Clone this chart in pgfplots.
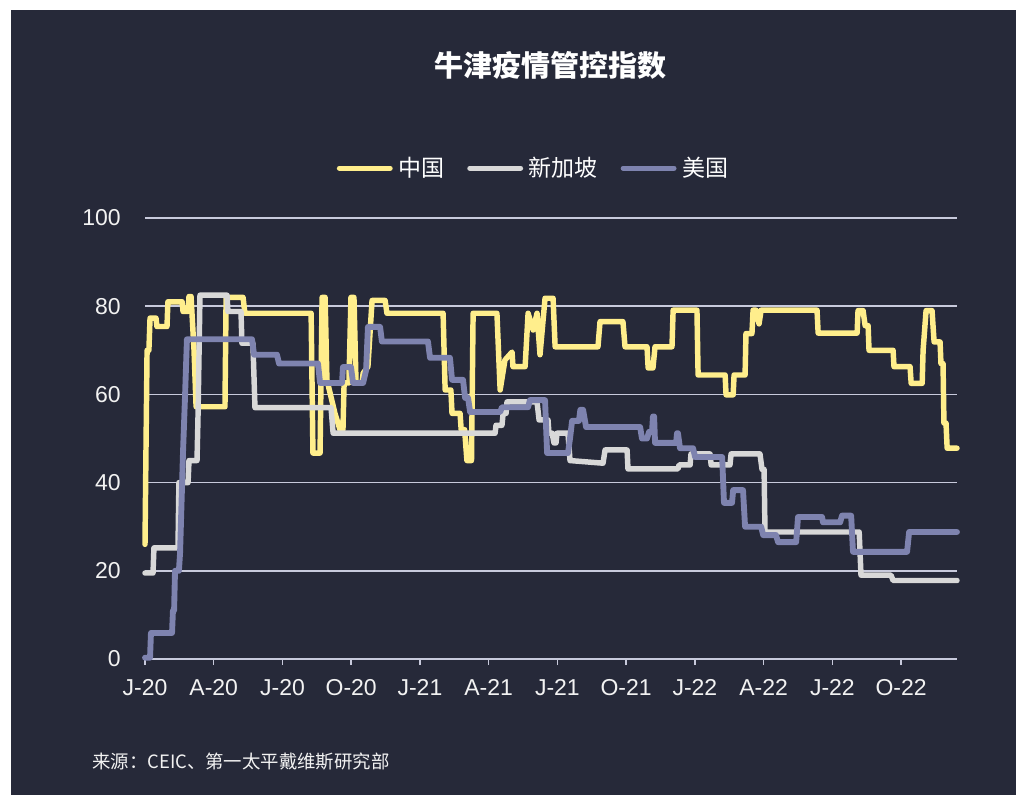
\documentclass[border=0pt]{standalone}
\usepackage{pgfplots}
\pgfplotsset{compat=1.18}
\usepackage{fontspec}
\setmainfont{Liberation Sans}
\newfontfamily\cjk{Noto Sans CJK SC}
\definecolor{bg}{HTML}{262939}
\definecolor{cn}{HTML}{FFEE8C}
\definecolor{sg}{HTML}{D8D8D8}
\definecolor{us}{HTML}{7E83AF}
\definecolor{gridc}{HTML}{C8CADC}
\definecolor{txt}{HTML}{F2F2F2}

\pgfplotstableread{
m v
0 26
0.04 46
0.09 70
0.17 70
0.22 77.3
0.48 77.3
0.52 75.4
0.96 75.4
1.00 81
1.62 81
1.66 78.8
1.88 78.8
1.92 82.2
2.01 82.2
2.14 70
2.23 57.2
3.49 57.2
3.54 82
4.28 82
4.36 78.4
7.25 78.4
7.33 46.7
7.64 46.7
7.73 82
7.86 82
7.94 63.3
8.29 55.7
8.51 52
8.64 52
8.69 62.6
8.90 62.6
8.99 82
9.12 82
9.21 62.6
9.47 62.6
9.52 64.8
9.73 66.3
9.91 81.3
10.48 81.3
10.56 78.4
13.01 78.4
13.10 61
13.35 61
13.40 55.7
13.75 55.7
13.80 52
13.95 52
14.05 45
14.25 45
14.32 78.4
15.36 78.4
15.50 61
15.71 67.8
16.02 69.6
16.06 66.3
16.59 66.3
16.72 78.4
16.94 74.6
17.11 78.4
17.24 69
17.46 81.8
17.81 81.8
17.90 70.8
19.77 70.8
19.86 76.5
20.86 76.5
20.95 70.8
21.91 70.8
21.96 66
22.17 66
22.26 70.8
23.00 70.8
23.05 79.1
24.09 79.1
24.14 64.4
25.32 64.4
25.36 59.9
25.67 59.9
25.71 64.4
26.19 64.4
26.23 73.8
26.49 73.8
26.54 79.1
26.67 79.1
26.80 76
26.89 79.1
29.33 79.1
29.38 73.9
31.08 73.9
31.12 79
31.34 79
31.43 75.6
31.56 75.6
31.60 70
32.65 70
32.69 66.3
33.39 66.3
33.44 62.5
33.92 62.5
33.96 70
34.09 79
34.35 79
34.44 71.9
34.70 71.9
34.74 67
34.83 67
34.87 53.5
34.96 53.5
35.01 47.8
35.44 47.8
}\china

\pgfplotstableread{
m v
0 19.5
0.35 19.5
0.39 25.2
1.44 25.2
1.48 40
1.88 40
1.92 45
2.27 45
2.31 54
2.40 82.5
3.58 82.5
3.62 78.8
4.19 78.8
4.23 71.6
4.71 71.6
4.80 57
8.12 57
8.21 51.2
15.28 51.2
15.32 53
15.58 53
15.63 55.7
15.76 55.7
15.80 58.3
17.11 58.3
17.20 54.2
17.59 54.2
17.63 51.2
17.77 51.2
17.85 49
17.94 49
17.98 51.2
18.46 51.2
18.55 45
19.99 44.4
20.08 47.4
21.04 47.4
21.08 43.1
23.26 43.1
23.31 44
23.79 44
23.83 46.5
24.66 46.5
24.71 44
25.53 44
25.58 46.5
26.84 46.5
26.93 43
27.02 43
27.06 28.8
31.17 28.8
31.25 19
32.56 19
32.65 17.8
35.44 17.8
}\singapore

\pgfplotstableread{
m v
0 0.3
0.22 0.3
0.26 5.9
1.18 5.9
1.22 11
1.27 11
1.31 20
1.48 20
1.53 24
1.66 47
1.75 60
1.83 72.5
4.67 72.5
4.76 69
5.76 69
5.85 67
7.55 67
7.64 62.6
8.60 62.6
8.64 66.2
8.99 66.2
9.08 62.6
9.52 62.6
9.65 65.5
9.73 75.3
10.26 75.3
10.34 72
12.35 72
12.44 68.3
13.31 68.3
13.40 63.3
13.88 63.3
13.97 59.2
14.10 59.2
14.19 56
15.50 56
15.58 57.1
16.72 57.1
16.80 58.7
17.46 58.7
17.55 46.7
18.46 46.7
18.55 50
18.64 54
18.94 54
19.00 56.5
19.12 56.5
19.25 52.6
21.61 52.6
21.69 50
21.91 50
22.00 51.5
22.13 51.5
22.17 55
22.22 55
22.26 49
23.18 49
23.22 51.2
23.26 51.2
23.35 47.8
23.92 47.8
24.01 45.8
25.19 45.8
25.27 35.4
25.62 35.4
25.67 38.3
26.10 38.3
26.19 30
26.89 30
26.98 28.1
27.54 28.1
27.63 26.5
28.42 26.5
28.50 32.2
29.55 32.2
29.59 31
30.34 31
30.42 32.5
30.82 32.5
30.90 24.3
33.26 24.3
33.35 28.8
35.44 28.8
}\usa

\begin{document}
\begin{tikzpicture}
\fill[white] (0pt,0pt) rectangle (762pt,-596.25pt);
\fill[bg] (8.25pt,-7.5pt) rectangle (762pt,-596.25pt);
\node[text=white, font=\cjk\bfseries\fontsize{21.75}{26}\selectfont] at (412.5pt,-48.75pt) {牛津疫情管控指数};
\node[anchor=west, text=txt, inner sep=0pt, font=\cjk\fontsize{13.8}{16}\selectfont] at (69pt,-571.5pt) {来源：CEIC、第一太平戴维斯研究部};
\begin{axis}[
  at={(108.75pt,-494.25pt)}, anchor=south west,
  scale only axis, width=609pt, height=330.75pt,
  xmin=0, xmax=35.44, ymin=0, ymax=100,
  clip=false,
  axis x line*=bottom, axis y line*=left,
  y axis line style={draw=none},
  x axis line style={gridc, line width=1.5pt, -},
  xtick={0,3,...,33},
  xticklabels={J-20,A-20,J-20,O-20,J-21,A-21,J-21,O-21,J-22,A-22,J-22,O-22},
  ytick={0,20,...,100},
  ymajorgrids, grid style={gridc, line width=1.1pt},
  tick align=outside, major tick length=4.5pt,
  xtick style={gridc, line width=1.1pt},
  ytick style={draw=none},
  /pgf/number format/assume math mode=true,
  ticklabel style={font=\fontsize{17.25}{20}\selectfont, text=txt},
  yticklabel style={anchor=east, inner sep=0pt, xshift=-13.5pt},
  xticklabel style={anchor=north, inner sep=0pt, yshift=-10.3pt},
  legend columns=3,
  legend style={at={(0.4775,1.113)}, anchor=center, draw=none, fill=none,
    text=white, font=\cjk\fontsize{17.25}{20}\selectfont,
    nodes={inner sep=0pt},
    /tikz/every odd column/.append style={column sep=0pt},
    /tikz/every even column/.append style={column sep=17pt}},
  legend image code/.code={\draw[#1, line width=3.9pt, line cap=round] (0pt,0pt) -- (38pt,0pt); \path (42.3pt,0pt);},
  line join=round,
]
\addplot[cn, line width=4.1pt, line cap=round] table[x=m, y=v] {\china};
\addlegendentry{中国}
\addplot[sg, line width=4.1pt, line cap=round] table[x=m, y=v] {\singapore};
\addlegendentry{新加坡}
\addplot[us, line width=4.4pt, line cap=round] table[x=m, y=v] {\usa};
\addlegendentry{美国}
\end{axis}
\end{tikzpicture}
\end{document}
